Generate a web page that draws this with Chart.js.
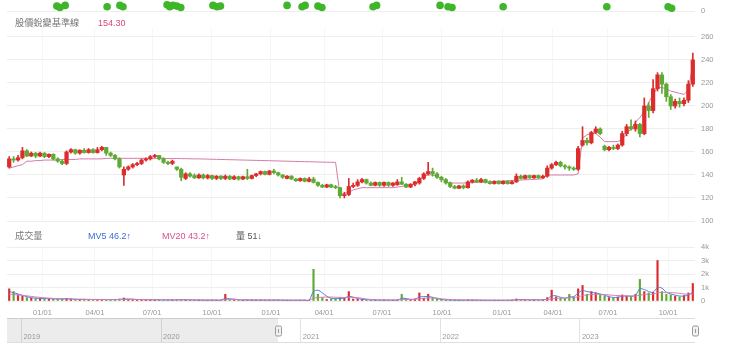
<!DOCTYPE html>
<html><head><meta charset="utf-8">
<script src="https://cdn.jsdelivr.net/npm/chart.js@4.4.1/dist/chart.umd.min.js"></script>
<style>
html,body{margin:0;padding:0;background:#fff;}
body{width:740px;height:353px;position:relative;overflow:hidden;font-family:"Liberation Sans","Noto Sans CJK TC",Arial,sans-serif;}
canvas{position:absolute;left:0;}
.t{position:absolute;font-size:9px;white-space:nowrap;line-height:10px;z-index:5;}
.yr{position:absolute;font-size:7.5px;color:#999;line-height:9px;z-index:5;}
</style></head><body>
<canvas id="cStrip" width="740" height="20" style="top:0"></canvas>
<canvas id="cPrice" width="740" height="210" style="top:20px"></canvas>
<canvas id="cVol" width="740" height="90" style="top:238px"></canvas>
<canvas id="cNav" width="740" height="39" style="top:314px"></canvas>
<div class="t" style="left:15px;top:18px;color:#777;font-size:9.2px">股價蛻變基準線</div>
<div class="t" style="left:98px;top:18px;color:#d6457a">154.30</div>
<div class="t" style="left:15px;top:231px;color:#777;font-size:9.2px">成交量</div>
<div class="t" style="left:88px;top:231px;color:#3b6fd4">MV5 46.2↑</div>
<div class="t" style="left:162px;top:231px;color:#d9508a">MV20 43.2↑</div>
<div class="t" style="left:236px;top:231px;color:#555">量 51↓</div>
<div id="navLabels"></div>
<script>
const FONT = '"Liberation Sans","Noto Sans CJK TC",Arial,sans-serif';
const N = 156; // trading weeks shown, Nov 2020 - Nov 2023

const tickLabels = ['01/01','04/01','07/01','10/01','01/01','04/01','07/01','10/01','01/01','04/01','07/01','10/01'];
const tickPos = [8.05,19.95,32.88,46.48,59.86,71.88,85.03,98.63,112.24,123.80,136.27,149.88];
const priceTicks = [100,120,140,160,180,200,220,240,260];
const volTicks = [0,1000,2000,3000,4000];
const volTickLabels = ['0','1k','2k','3k','4k'];
const navYears = [2019,2020,2021,2022,2023];
const navRange = [2018.897, 2023.824];
const navSelection = [2020.838, 2023.824];

const open = [147,154,153,155,161,156.5,159,156.5,159,156,
158,154,152,150,160,162,159,161.5,159.5,162,
159.5,162,164,159,157,154,140,145,147,149,
150,153,154,156,157,154,151,150,147,145,
137,141,139.5,137.5,140,137.5,139.5,137,139,137,
139,136.5,138.5,136.5,138.5,137,139.5,141,143,140.5,
143.5,142,140,137,139,136.5,135,137,134.5,136.5,
133.5,131,129.5,131.5,129.5,129,122,123,130,131,
134,136,133,131,133.5,131,133.5,131,131.5,134,
132,129.5,132,133,137,141,143,141,138,136,
133,130,128.5,130.5,129,134,135.5,134,136,133.5,
132.5,134.5,132.5,134.5,132.5,134,139,137,139.5,137.5,
139.5,137.5,139,146,149,151,148,147,146,145,
166,170,168,177,180,165,162,164,163,166,
176,182,180,184,176,200,196,215,227,219,
208,200,204,202,205,219];
const close = [154,153,155,161,156.5,159,156.5,159,156,158,
154,152,150,160,162,159,161.5,159.5,162,159.5,
162,164,159,157,154,147,145,147,149,150,
153,154,156,157,154,151,150,152,145,138,
141,139,137.5,140,137.5,139.5,137,139,137,139,
136.5,138.5,136.5,138.5,137,139.5,141,143,140.5,143.5,
142,140,138,139,136.5,135,137,134.5,136.5,133.5,
131,129.5,131.5,129.5,129,122,123,130,131,134,
136,133,131,133.5,131,133.5,131,133,134,132,
129.5,132,134,137,141,143,141,138,136,133,
130,128.5,130.5,129,134,135.5,134,136,133.5,132.5,
134.5,132.5,134.5,132.5,134,139,137,139.5,137.5,139.5,
137.5,139,146,149,151,148,147,146,145,163,
170,168,177,180,176,162,164,163,166,176,
182,180,184,176,200,196,215,227,219,208,
200,204,202,205,219,240];
const high = [156,156,157,164,162,160,159.5,160,159.5,158.5,
158.5,155,153,161,163,162.5,162,163,163,163,
164,165,164,160,158,155,147,148,150,151,
154,155,157,158,157,155,152,153,147,146,
142,142,141,141,141,140.5,140,139.5,139.5,140,
139.5,139.5,139,139,145,140,141.5,143.5,143.5,144,
145,142.5,140.5,139.5,139.5,137,137.5,137.5,138,138,
134,132,132,132,131,129,125,137,133,136,
137,136.5,134,134,134,134,134,133.5,136,138,
132.5,132.5,134.5,138,142,151,146,142,139,137,
134,131,131,131.5,135,136,137,137,136.5,135,
135,135,135,135,135,141,140,140,140,140,
140,140,148,150,152,152,149,148,147,165,
182,172,178,182,181,166,165,166,167,178,
184,188,187,185,207,203,223,229,229,220,
210,206,207,207,222,246];
const low = [146,151,152,154,156,156,155,156,155,155,
153,151,149,149,159,158,158,159,159,159,
159,161,157,156,153,146,131,144,146,148,
149,152,153,155,153,150,149,149,144,135,
136,138,137,137,136.5,136.5,136,136,136,136,
136,136,135.5,136,136,136.5,138.5,140,140,140,
141,139,137,136.5,136,134.5,134.5,134,134,133,
130,129,129,129,128,120,120,122,129,130,
133,132,130.5,130.5,130,130,130,130,131,131.5,
129,129,130.5,132,136,140,139,137,134,132,
129,128,128,128,128.5,133,133.5,133.5,133,132,
132,132,132,132,132,133.5,136.5,136.5,137,137,
137,137,138,145,148,147,145,144,144,144,
165,166,167,176,175,161,161,162,162,165,
174,179,178,173,175,190,194,213,211,204,
197,198,199,200,203,217];
// 股價蛻變基準線
const baseline = [146,147,148,149,152,152,152.5,152.5,153,153,
153,153,153.5,153.5,153.5,153.5,154,154,154,154,
154,154,154.5,154.5,154.5,154.5,154.5,154.5,154.5,154.5,
154.5,154.5,154.5,154.5,154.5,154.5,154.3,154.3,154.3,154.2,
154.2,154.1,154,154,153.9,153.8,153.7,153.6,153.5,153.4,
153.3,153.2,153.1,153,152.9,152.8,152.7,152.6,152.5,152.4,
152.3,152.2,152.1,152,151.9,151.8,151.7,151.6,151.5,151.4,
151.3,151.2,151.1,151,151,123,124,125,127,128,
129,129,129,129,129,129,129,129,129.5,130,
131,131,132,136,139,140,140,139,137,134,
133,133,133,133,133.2,133.4,133.6,133.8,134,134.2,
134.4,134.6,134.8,135,135.2,135.4,135.6,135.8,136,136.2,
136.4,136.6,140,140,140,140,140,140,140,141,
172,175,176,176,173,169,169,169,169,171,
176,180,186,190,195,203,210,216,216,215,
213,212,211,210,214,236];
const volume = [900,700,450,350,250,200,180,200,150,170,
150,130,160,200,150,120,110,130,100,110,
100,120,90,100,110,150,220,120,100,90,
90,100,80,90,80,80,70,80,90,120,
90,70,60,70,60,60,70,60,60,500,
100,80,70,60,90,70,60,80,70,60,
80,70,60,60,50,60,60,70,60,2350,
500,250,120,150,180,250,200,700,150,120,
100,80,70,80,60,70,60,60,80,500,
120,80,150,600,200,500,250,150,100,80,
70,60,50,60,80,70,60,50,60,50,
60,60,50,60,70,150,100,90,80,90,
80,100,250,800,300,200,150,500,300,900,
1150,500,700,600,450,350,250,200,300,450,
350,300,500,1600,700,600,650,3000,700,500,
450,350,300,400,600,1300];
const mv5 = [700,620,520,420,320,250,210,190,180,170,
160,150,150,160,150,130,120,120,110,110,
110,110,100,100,100,120,150,150,140,110,
100,90,90,90,85,80,80,80,85,95,
95,85,75,70,65,65,65,65,60,200,
160,140,90,75,75,75,70,70,70,70,
70,70,65,60,60,55,60,60,60,700,
800,600,350,200,170,190,210,350,280,180,
120,95,80,75,70,70,65,65,65,200,
180,120,120,300,320,330,280,180,110,85,
75,65,60,60,65,70,65,60,55,55,
55,55,55,55,60,100,110,100,90,90,
90,90,150,380,380,280,200,300,320,600,
780,700,650,600,520,420,320,260,270,350,
370,350,420,900,850,700,650,1000,950,650,
520,430,370,360,450,650];
const mv20 = [500,480,450,420,380,340,300,270,240,210,
190,170,160,150,140,135,130,125,120,115,
112,110,108,106,105,105,110,115,115,112,
110,105,100,98,95,92,90,88,86,85,
85,84,82,80,78,76,74,72,70,90,
100,100,95,90,85,80,78,76,74,72,
70,70,68,66,64,62,62,62,62,200,
260,280,290,290,280,270,260,280,270,250,
200,150,110,95,85,80,78,76,75,100,
120,125,130,170,200,220,230,210,170,130,
110,95,85,78,72,70,68,66,64,62,
60,60,60,60,62,70,78,82,85,88,
90,92,100,150,190,210,220,240,260,320,
400,450,480,500,500,480,450,420,400,390,
380,370,370,430,480,500,510,600,650,640,
620,600,560,520,500,520];
const signalWeek = [11.3,12.0,13.2,22.7,25.6,26.3,36.3,36.9,37.6,38.5,39.4,46.7,47.6,48.4,63.5,66.9,67.6,70.5,71.4,83.0,83.8,98.2,100.0,100.9,112.5,136.0,149.9,150.7];
const signalLevel = [7,5,8,6,8,6,9,6,8,7,5,8,6,7,8,6,8,7,5,6,8,8,6,5,6,6,6,4];

const RED = '#dd2c2c', GREEN = '#5dab34';
const up = open.map((o,i)=> close[i] >= o);
const candleColor = up.map(u => u ? RED : GREEN);
const xAt = i => i + 0.5;

function yFix(s){ s.width = 45; s.paddingTop = 0; s.paddingBottom = 0; }
function xFix(s){ s.paddingLeft = 0; s.paddingRight = 0; }
function xScale(showLabels){
  return {type:'linear', min:0, max:N, offset:false,
    afterBuildTicks(s){ s.ticks = tickPos.map(v=>({value:v})); },
    afterFit: xFix,
    grid:{offset:false, color:'rgba(0,0,0,0.035)', drawTicks:false},
    border:{display:false},
    ticks:{display:showLabels, autoSkip:false, maxRotation:0, padding:7, color:'#999', font:{size:7.5, family:FONT}, callback:(v,i)=>tickLabels[i]}
  };
}
function yTicks(extra){ return Object.assign({padding:6, autoSkip:false, color:'#999', font:{size:7.5, family:FONT}}, extra||{}); }
const common = {responsive:false, animation:false, events:[], devicePixelRatio:1,
  plugins:{legend:{display:false}, tooltip:{enabled:false}}};

new Chart(document.getElementById('cStrip'), {
  type:'scatter',
  data:{datasets:[{data: signalWeek.map((w,i)=>({x:w, y:signalLevel[i]})), backgroundColor:'#3fb52a', borderWidth:0, pointRadius:3.8, clip:false}]},
  options:{...common, layout:{padding:{left:7,right:0,top:0,bottom:9}},
    scales:{x:{...xScale(false), display:false},
      y:{position:'right', min:0, max:10, afterBuildTicks(s){ s.ticks=[{value:0}]; }, afterFit:yFix,
        grid:{color:'#eeeeee', drawTicks:false}, border:{display:false}, ticks:yTicks()}}}
});

new Chart(document.getElementById('cPrice'), {
  type:'bar',
  data:{datasets:[
    {type:'bar', data: open.map((o,i)=>({x:xAt(i), y:[o, close[i]]})), backgroundColor:candleColor, barThickness:3.6, minBarLength:1, grouped:false, order:0},
    {type:'bar', data: open.map((o,i)=>({x:xAt(i), y:[low[i], high[i]]})), backgroundColor:candleColor, barThickness:1, grouped:false, order:1},
    {type:'line', data: baseline.map((v,i)=>({x:xAt(i), y:v})), borderColor:'#d57aa8', borderWidth:1, pointRadius:0, tension:0, order:2}
  ]},
  options:{...common, layout:{padding:{left:7,right:0,top:8,bottom:9}},
    scales:{x:xScale(false),
      y:{position:'right', min:100, max:267.8, afterBuildTicks(s){ s.ticks = priceTicks.map(v=>({value:v})); }, afterFit:yFix,
        grid:{color:'#eeeeee', drawTicks:false}, border:{display:false}, ticks:yTicks()}}}
});

new Chart(document.getElementById('cVol'), {
  type:'bar',
  data:{datasets:[
    {type:'bar', data: volume.map((v,i)=>({x:xAt(i), y:v})), backgroundColor:candleColor, barThickness:1.5, grouped:false, order:2},
    {type:'line', data: mv5.map((v,i)=>({x:xAt(i), y:v})), borderColor:'#4a7ee0', borderWidth:1, pointRadius:0, tension:0.3, order:1},
    {type:'line', data: mv20.map((v,i)=>({x:xAt(i), y:v})), borderColor:'#d77aa9', borderWidth:1, pointRadius:0, tension:0.3, order:0}
  ]},
  options:{...common, layout:{padding:{left:7,right:0,top:9,bottom:4}},
    scales:{x:xScale(true),
      y:{position:'right', min:0, max:4000, afterBuildTicks(s){ s.ticks = volTicks.map(v=>({value:v})); }, afterFit:yFix,
        grid:{color:'#eeeeee', drawTicks:false}, border:{display:false},
        ticks:yTicks({callback:(v,i)=>volTickLabels[i]})}}}
});

const handlePlugin = {id:'handles', afterDatasetsDraw(chart){
  const ctx = chart.ctx, xs = chart.scales.x, a = chart.chartArea;
  ctx.save();
  navSelection.forEach(v=>{
    const px = Math.round(xs.getPixelForValue(v)) + 0.5;
    ctx.fillStyle = '#f2f2f2'; ctx.strokeStyle = '#9a9a9a'; ctx.lineWidth = 1;
    ctx.beginPath(); ctx.roundRect(px-3, a.top+8, 6, 10, 1.5); ctx.fill(); ctx.stroke();
    ctx.beginPath(); ctx.moveTo(px, a.top+11); ctx.lineTo(px, a.top+15); ctx.stroke();
  });
  ctx.restore();
}};
const nav = new Chart(document.getElementById('cNav'), {
  type:'line',
  data:{datasets:[{data:[{x:navRange[0],y:1},{x:navSelection[0],y:1}], fill:'origin', backgroundColor:'rgba(0,0,0,0.075)', borderWidth:0, pointRadius:0}]},
  options:{...common, layout:{padding:{left:7,right:0,top:4,bottom:11}},
    scales:{
      x:{type:'linear', min:navRange[0], max:navRange[1], afterBuildTicks(s){ s.ticks = navYears.map(v=>({value:v})); }, afterFit:xFix,
        grid:{color:'#e2e2e2', drawTicks:false}, border:{display:false}, ticks:{display:false}},
      y:{position:'right', min:0, max:1, afterBuildTicks(s){ s.ticks=[{value:0},{value:1}]; }, afterFit:yFix,
        grid:{color:'#dedede', drawTicks:false}, border:{display:false}, ticks:{display:false}}}},
  plugins:[handlePlugin]
});
const holder = document.getElementById('navLabels');
navYears.forEach(y=>{
  const d = document.createElement('div');
  d.className = 'yr';
  d.textContent = String(y);
  d.style.left = (nav.scales.x.getPixelForValue(y) + 2) + 'px';
  d.style.top = '332px';
  holder.appendChild(d);
});
</script>
</body></html>
